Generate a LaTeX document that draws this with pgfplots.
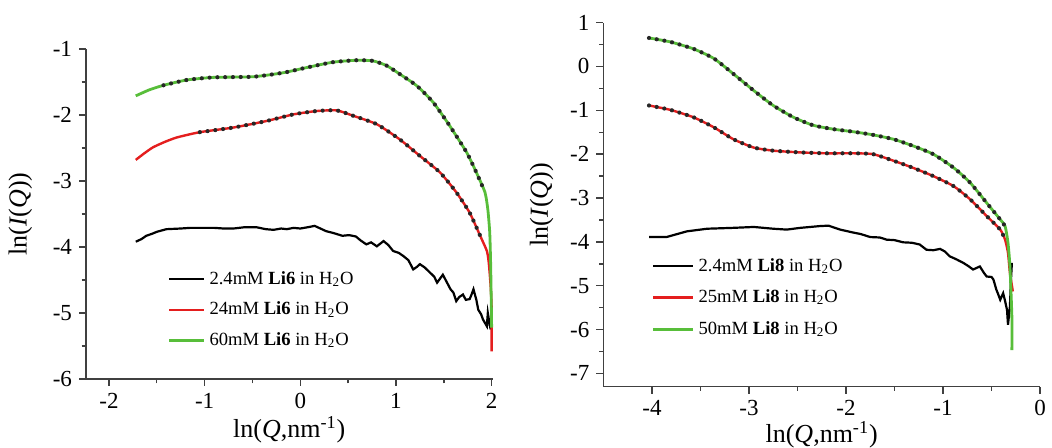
\documentclass[border=0pt]{standalone}
\usepackage{fontspec}
\setmainfont{Liberation Serif}
\usepackage{pgfplots}
\usepackage{pgfplotstable}
\pgfplotsset{compat=1.18}
\definecolor{cgreen}{RGB}{88,190,58}
\definecolor{cred}{RGB}{228,30,30}

\pgfplotstableread{
x y
-1.72 -3.92
-1.66 -3.88
-1.61 -3.83
-1.55 -3.80
-1.50 -3.77
-1.40 -3.73
-1.25 -3.72
-1.15 -3.71
-1.05 -3.71
-0.90 -3.71
-0.80 -3.72
-0.70 -3.72
-0.58 -3.70
-0.46 -3.70
-0.36 -3.73
-0.28 -3.74
-0.20 -3.72
-0.14 -3.73
-0.07 -3.71
0.00 -3.72
0.08 -3.70
0.15 -3.68
0.21 -3.72
0.27 -3.76
0.35 -3.79
0.44 -3.83
0.51 -3.82
0.58 -3.84
0.63 -3.90
0.69 -3.96
0.74 -3.93
0.80 -3.99
0.87 -3.91
0.92 -3.97
0.97 -4.06
1.03 -4.09
1.08 -4.14
1.13 -4.20
1.18 -4.34
1.22 -4.30
1.25 -4.26
1.30 -4.31
1.35 -4.38
1.40 -4.45
1.43 -4.54
1.46 -4.48
1.49 -4.42
1.53 -4.53
1.57 -4.64
1.60 -4.69
1.63 -4.82
1.66 -4.76
1.70 -4.72
1.73 -4.80
1.77 -4.79
1.79 -4.72
1.81 -4.64
1.84 -4.80
1.86 -4.95
1.89 -5.02
1.91 -5.10
1.93 -5.15
1.95 -5.20
1.96 -5.00
1.98 -5.18
1.99 -5.25
}\blackA

\pgfplotstableread{
x y
-1.72 -2.68
-1.63 -2.58
-1.54 -2.49
-1.42 -2.41
-1.29 -2.34
-1.05 -2.26
-0.70 -2.19
-0.35 -2.09
-0.07 -1.99
0.17 -1.94
0.38 -1.93
0.55 -2.01
0.80 -2.14
1.04 -2.37
1.25 -2.62
1.46 -2.87
1.63 -3.17
1.77 -3.48
1.88 -3.83
1.95 -4.06
1.97 -4.24
1.99 -4.60
2.00 -4.95
2.00 -5.58
}\redA

\pgfplotstableread{
x y
-1.72 -1.71
-1.58 -1.62
-1.43 -1.55
-1.19 -1.47
-0.91 -1.43
-0.49 -1.42
-0.18 -1.36
0.07 -1.28
0.34 -1.20
0.59 -1.17
0.76 -1.18
0.90 -1.25
1.04 -1.38
1.22 -1.56
1.39 -1.81
1.56 -2.16
1.74 -2.57
1.84 -2.87
1.93 -3.17
1.96 -3.43
1.98 -3.78
1.99 -4.29
2.00 -5.22
}\greenA

\pgfplotstableread{
x y
-4.03 -3.89
-3.85 -3.89
-3.64 -3.76
-3.43 -3.70
-3.16 -3.68
-2.95 -3.66
-2.75 -3.70
-2.61 -3.72
-2.47 -3.68
-2.27 -3.64
-2.18 -3.63
-2.06 -3.72
-1.92 -3.79
-1.85 -3.82
-1.75 -3.89
-1.65 -3.90
-1.58 -3.95
-1.50 -3.96
-1.41 -4.01
-1.32 -4.02
-1.24 -4.06
-1.17 -4.18
-1.10 -4.19
-1.03 -4.16
-0.98 -4.22
-0.93 -4.33
-0.86 -4.40
-0.79 -4.48
-0.74 -4.55
-0.69 -4.63
-0.62 -4.56
-0.58 -4.70
-0.55 -4.79
-0.50 -4.80
-0.48 -4.86
-0.45 -5.09
-0.43 -5.20
-0.41 -5.32
-0.38 -5.17
-0.36 -5.35
-0.34 -5.55
-0.33 -5.89
-0.31 -5.47
-0.30 -4.90
-0.29 -4.48
}\blackB

\pgfplotstableread{
x y
-4.03 -0.89
-3.81 -0.99
-3.57 -1.16
-3.36 -1.39
-3.16 -1.66
-2.95 -1.85
-2.75 -1.92
-2.47 -1.96
-2.20 -1.98
-1.92 -1.98
-1.72 -2.00
-1.51 -2.15
-1.31 -2.31
-1.10 -2.50
-0.89 -2.73
-0.72 -3.03
-0.55 -3.41
-0.41 -3.72
-0.36 -3.95
-0.33 -4.25
-0.31 -4.71
-0.28 -5.13
}\redB

\pgfplotstableread{
x y
-4.03 0.65
-3.81 0.56
-3.57 0.40
-3.36 0.18
-3.16 -0.17
-2.95 -0.55
-2.75 -0.89
-2.54 -1.16
-2.34 -1.34
-2.13 -1.43
-1.92 -1.49
-1.72 -1.56
-1.51 -1.66
-1.31 -1.81
-1.10 -2.00
-0.89 -2.31
-0.72 -2.65
-0.55 -3.11
-0.41 -3.49
-0.36 -3.64
-0.33 -4.02
-0.31 -4.56
-0.29 -5.70
-0.29 -6.47
}\greenB

\pgfplotsset{
  common/.style={
    scale only axis,
    axis x line*=bottom,
    axis y line*=left,
    axis line style={line width=0.8pt, black!75},
    tick style={line width=0.7pt, black!75},
    tick align=outside,
    major tick length=3.5pt,
    minor tick length=2.2pt,
    minor tick num=1,
    /pgf/number format/assume math mode=true,
    ticklabel style={font=\fontsize{11.5}{13}\selectfont},
    label style={font=\fontsize{13}{15}\selectfont},
    legend cell align=left,
    legend style={draw=none, fill=none, font=\fontsize{9.3}{11}\selectfont, inner sep=0pt},
    clip=false,
  },
  fitdots/.style={black!85, line width=2.1pt, line cap=round, dash pattern=on 0pt off 3.9pt, forget plot},
  smoothline/.style={smooth, tension=0.35},
}

\begin{document}
\begin{tikzpicture}
\useasboundingbox (0,0) rectangle (526pt,224pt);
\begin{axis}[common,
  at={(43pt,34.5pt)}, anchor=south west,
  width=203.3pt, height=165pt,
  xmin=-2.24, xmax=2.01, ymin=-6, ymax=-1,
  xtick={-2,-1,0,1,2}, ytick={-6,-5,-4,-3,-2,-1},
  xlabel={ln(\textit{Q},nm\textsuperscript{-1})},
  ylabel={ln(\textit{I}(\textit{Q}))},
  xlabel shift=-3pt, ylabel shift=3.5pt,
  legend image code/.code={\draw[#1] (0pt,0pt) -- (17.5pt,0pt);},
  legend style={at={(0.2,0.34)}, anchor=north west, row sep=3.4pt},
]
\addplot[black, line width=1.1pt] table {\blackA};
\addlegendentry{2.4mM \textbf{Li6} in H\textsubscript{2}O}
\addplot[cred, line width=1.2pt, smoothline] table {\redA};
\addlegendentry{24mM \textbf{Li6} in H\textsubscript{2}O}
\addplot[cgreen, line width=1.4pt, smoothline] table {\greenA};
\addlegendentry{60mM \textbf{Li6} in H\textsubscript{2}O}
\addplot[fitdots, smoothline, restrict x to domain=-1.26:1.92] table {\redA};
\addplot[fitdots, smoothline, restrict x to domain=-1.44:1.94] table {\greenA};
\end{axis}

\begin{axis}[common,
  at={(301.7pt,30.7pt)}, anchor=south west,
  width=218.3pt, height=182pt,
  xmin=-4.5, xmax=0, ymin=-7.3, ymax=1,
  xtick={-4,-3,-2,-1,0}, ytick={-7,-6,-5,-4,-3,-2,-1,0,1},
  xlabel={ln(\textit{Q},nm\textsuperscript{-1})},
  ylabel={ln(\textit{I}(\textit{Q}))},
  xlabel shift=-4pt, ylabel shift=1.5pt,
  legend image code/.code={\draw[#1] (0pt,0pt) -- (20pt,0pt);},
  legend style={at={(0.11,0.365)}, anchor=north west, row sep=3.8pt},
]
\addplot[black, line width=1.1pt] table {\blackB};
\addlegendentry{2.4mM \textbf{Li8} in H\textsubscript{2}O}
\addplot[cred, line width=1.2pt, smoothline] table {\redB};
\addlegendentry{25mM \textbf{Li8} in H\textsubscript{2}O}
\addplot[cgreen, line width=1.4pt, smoothline] table {\greenB};
\addlegendentry{50mM \textbf{Li8} in H\textsubscript{2}O}
\addplot[fitdots, smoothline, restrict x to domain=-4.05:-0.35] table {\redB};
\addplot[fitdots, smoothline, restrict x to domain=-4.05:-0.35] table {\greenB};
\end{axis}
\end{tikzpicture}
\end{document}
